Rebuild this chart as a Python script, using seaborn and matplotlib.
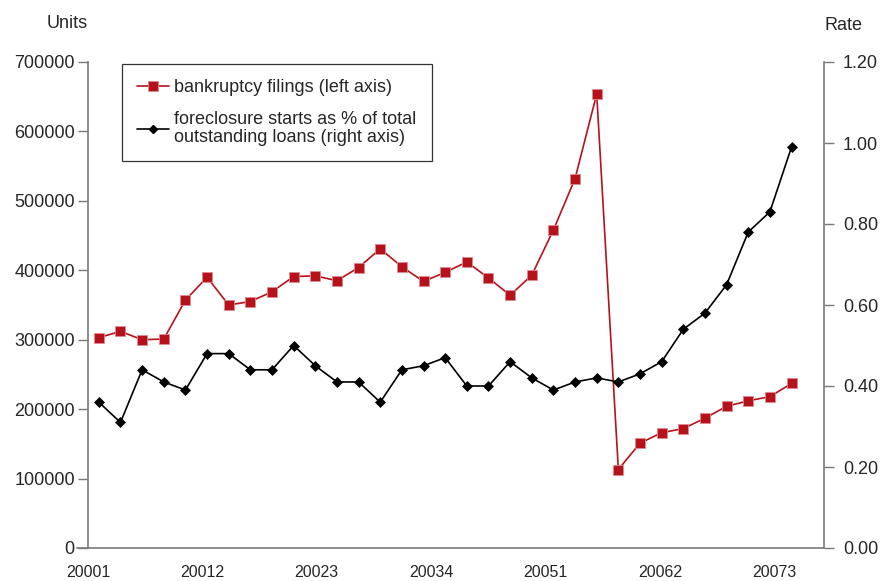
import numpy as np
import pandas as pd
import matplotlib
matplotlib.use("Agg")
import matplotlib.pyplot as plt
from matplotlib.lines import Line2D
import seaborn as sns

# quarterly data, 2000Q1 .. 2008Q1
quarters = ["%dQ%d" % (2000 + i // 4, i % 4 + 1) for i in range(33)]
bankruptcy = [303000, 312000, 300000, 301000, 357000, 390000, 350000, 355000,
              369000, 391000, 392000, 385000, 404000, 431000, 405000, 384000,
              397000, 412000, 389000, 364000, 393000, 458000, 532000, 654000,
              113000, 151000, 166000, 172000, 187000, 204000, 212000, 218000,
              237000]
foreclosure = [0.36, 0.31, 0.44, 0.41, 0.39, 0.48, 0.48, 0.44, 0.44, 0.50,
               0.45, 0.41, 0.41, 0.36, 0.44, 0.45, 0.47, 0.40, 0.40, 0.46,
               0.42, 0.39, 0.41, 0.42, 0.41, 0.43, 0.46, 0.54, 0.58, 0.65,
               0.78, 0.83, 0.99]
xlabels = ["20001", "20012", "20023", "20034", "20051", "20062", "20073"]

sns.set_style("white")
plt.rcParams['font.family'] = ['Liberation Sans', 'DejaVu Sans']
fs = 13

df = pd.DataFrame({"q": np.arange(len(quarters)), "bank": bankruptcy, "fore": foreclosure})

red = "#b5121b"
grey = "#7a7a7a"

fig = plt.figure(figsize=(8.84, 5.81), dpi=100)
ax = fig.add_axes([88/884, 33/581, (824-88)/884, (548-62)/581])
ax2 = ax.twinx()

sns.lineplot(data=df, x="q", y="bank", ax=ax, color=red, lw=1.2,
             marker="s", markersize=7, markeredgecolor="#e08a90", markeredgewidth=0.6)
sns.lineplot(data=df, x="q", y="fore", ax=ax2, color="black", lw=1.2,
             marker="D", markersize=5.5, markeredgecolor="black", markeredgewidth=0.5)

ncat = len(quarters) + 1
ax.set_xlim(-0.5, ncat - 0.5)
ax.set_ylim(0, 700000)
ax2.set_ylim(0, 1.2)

ax.set_yticks(np.arange(0, 700001, 100000))
ax.set_yticklabels(["%d" % v for v in np.arange(0, 700001, 100000)])
ax2.set_yticks(np.arange(0, 1.21, 0.2))
ax2.set_yticklabels(["%.2f" % v for v in np.arange(0, 1.21, 0.2)])

# category boundaries as small inward ticks, labels every ~5 quarters
ax.set_xticks(np.arange(0.5, ncat - 1, 1.0), minor=True)
ax.set_xticks(np.linspace(-0.5, 31.2, len(xlabels)))
ax.set_xticklabels(xlabels)
ax.tick_params(axis="x", which="major", length=0, pad=12, labelsize=11.5)
ax.tick_params(axis="x", which="minor", direction="in", length=7, width=1, color=grey)
ax.tick_params(axis="y", direction="out", length=7.5, width=1, color=grey, pad=2, labelsize=fs)
ax2.tick_params(axis="y", direction="out", length=7.5, width=1, color=grey, pad=6, labelsize=fs)

ax.set_xlabel("")
ax.set_ylabel("")
ax2.set_ylabel("")
for a in (ax, ax2):
    a.spines["top"].set_visible(False)
    for s in ["left", "right", "bottom"]:
        a.spines[s].set_color(grey)
        a.spines[s].set_linewidth(1.2)
ax2.spines["left"].set_visible(False)
ax2.spines["bottom"].set_visible(False)
ax.spines["right"].set_visible(False)
ax.spines["bottom"].set_bounds(-1.0, ncat - 0.5)

fig.text(88/884, 1 - 24/581, "Units", ha="right", va="center", fontsize=fs)
fig.text(824/884, 1 - 25/581, "Rate", ha="left", va="center", fontsize=fs)

handles = [Line2D([], [], color=red, lw=1.2, marker="s", markersize=7,
                  markeredgecolor="#e08a90", markeredgewidth=0.6),
           Line2D([], [], color="black", lw=1.2, marker="D", markersize=4,
                  markeredgecolor="black")]
leg = ax.legend(handles, ["bankruptcy filings (left axis)",
                          "foreclosure starts as % of total\noutstanding loans (right axis)"],
                loc="upper left", bbox_to_anchor=((122-88)/736, 1 - (64-62)/486),
                frameon=True, fancybox=False, edgecolor="black", fontsize=fs,
                handlelength=1.75, handletextpad=0.3, borderpad=0.85, labelspacing=0.8,
                borderaxespad=0)
leg.get_frame().set_linewidth(0.9)
for t in leg.get_texts():
    t.set_linespacing(1.1)

fig.savefig("out.png", dpi=100)
